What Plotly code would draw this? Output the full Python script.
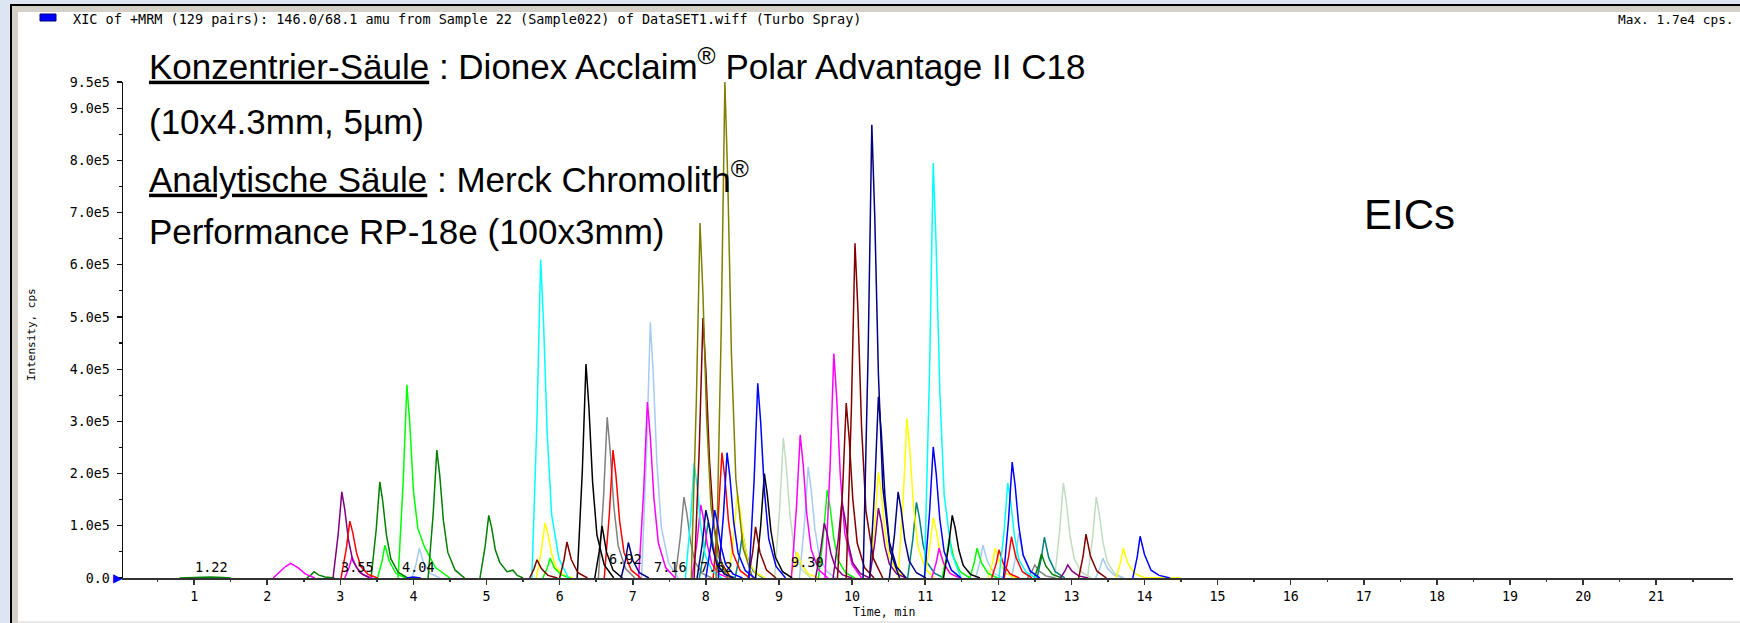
import plotly.graph_objects as go

# ---------------- data (intensities in units of 1e5 cps, time in min) ----------------
PALEGREEN_T = [8.94, 9.01, 9.06, 9.10, 9.15, 9.21, 9.31, 9.44, None,
               12.77, 12.84, 12.89, 12.93, 12.98, 13.04, 13.14, 13.27, None,
               13.22, 13.29, 13.34, 13.38, 13.43, 13.49, 13.59, 13.72]
PALEGREEN_I = [0, 1.34, 2.68, 2.14, 1.21, 0.54, 0.16, 0, None,
               0, 0.91, 1.82, 1.46, 0.82, 0.36, 0.11, 0, None,
               0, 0.78, 1.55, 1.24, 0.70, 0.31, 0.09, 0]

LIGHTBLUE_T = [3.98, 4.04, 4.08, 4.14, 4.23, 4.36, None,
               7.12, 7.19, 7.24, 7.28, 7.33, 7.39, 7.49, 7.62, None,
               9.28, 9.35, 9.40, 9.44, 9.49, 9.55, 9.65, 9.78, None,
               11.69, 11.75, 11.79, 11.85, 11.94, 12.07, None,
               12.18, 12.24, 12.28, 12.34, 12.43, 12.56, None,
               13.33, 13.39, 13.43, 13.49, 13.58, 13.71]
LIGHTBLUE_I = [0, 0.29, 0.57, 0.29, 0.09, 0, None,
               0, 2.45, 4.90, 3.92, 2.21, 0.98, 0.29, 0, None,
               0, 1.07, 2.13, 1.70, 0.96, 0.43, 0.13, 0, None,
               0, 0.32, 0.63, 0.32, 0.09, 0, None,
               0, 0.43, 0.86, 0.43, 0.13, 0, None,
               0, 0.19, 0.38, 0.19, 0.06, 0]

GRAY_T = [6.53, 6.60, 6.65, 6.69, 6.74, 6.80, 6.90, 7.03, None,
          7.58, 7.65, 7.70, 7.74, 7.79, 7.85, 7.95, 8.08, None,
          12.40, 12.46, 12.50, 12.56, 12.65, 12.78]
GRAY_I = [0, 1.54, 3.08, 2.46, 1.39, 0.62, 0.18, 0, None,
          0, 0.78, 1.55, 1.24, 0.70, 0.31, 0.09, 0, None,
          0, 0.13, 0.25, 0.13, 0.04, 0]

TEAL_T = [7.91, 7.98, 8.03, 8.07, 8.12, 8.18, 8.28, 8.41, None,
          8.40, 8.46, 8.50, 8.56, 8.65, 8.78, None,
          10.76, 10.83, 10.88, 10.92, 10.97, 11.03, 11.13, 11.26, None,
          12.53, 12.59, 12.63, 12.69, 12.78, 12.91]
TEAL_I = [0, 0.54, 1.07, 0.86, 0.48, 0.21, 0.06, 0, None,
          0, 0.43, 0.86, 0.43, 0.13, 0, None,
          0, 0.73, 1.45, 1.16, 0.65, 0.29, 0.09, 0, None,
          0, 0.39, 0.78, 0.39, 0.12, 0]

YELLOW_T = [5.68, 5.75, 5.80, 5.84, 5.89, 5.95, 6.05, 6.18, None,
            8.31, 8.38, 8.43, 8.47, 8.52, 8.58, 8.68, 8.81, None,
            9.15, 9.21, 9.25, 9.31, 9.40, 9.53, None,
            10.24, 10.31, 10.36, 10.40, 10.45, 10.51, 10.61, 10.74, None,
            10.63, 10.70, 10.75, 10.79, 10.84, 10.90, 11.00, 11.13, None,
            10.99, 11.06, 11.11, 11.15, 11.20, 11.26, 11.36, 11.49, None,
            11.86, 11.92, 11.96, 12.02, 12.11, 12.24, None,
            13.61, 13.67, 13.71, 13.77, 13.86, 13.99, 14.50]
YELLOW_I = [0, 0.53, 1.05, 0.84, 0.47, 0.21, 0.06, 0, None,
            0, 0.80, 1.60, 1.28, 0.72, 0.32, 0.10, 0, None,
            0, 0.25, 0.50, 0.25, 0.08, 0, None,
            0, 1.02, 2.03, 1.62, 0.91, 0.41, 0.12, 0, None,
            0, 1.53, 3.06, 2.45, 1.38, 0.61, 0.18, 0, None,
            0, 0.58, 1.15, 0.92, 0.52, 0.23, 0.07, 0, None,
            0, 0.29, 0.57, 0.29, 0.09, 0, None,
            0, 0.29, 0.57, 0.29, 0.09, 0.01, 0]

GREEN_T = [3.51, 3.57, 3.61, 3.67, 3.76, 3.89, None,
           3.79, 3.86, 3.91, 3.95, 4.00, 4.06, 4.15, 4.30, 4.50, None,
           5.77, 5.83, 5.87, 5.93, 6.02, 6.15, None,
           9.54, 9.61, 9.66, 9.70, 9.75, 9.81, 9.91, 10.04, None,
           11.23, 11.29, 11.33, 11.39, 11.48, 11.61, None,
           11.61, 11.67, 11.71, 11.77, 11.86, 11.99]
GREEN_I = [0, 0.32, 0.63, 0.32, 0.09, 0, None,
           0, 1.85, 3.70, 2.96, 1.67, 0.95, 0.60, 0.20, 0, None,
           0, 0.19, 0.38, 0.19, 0.06, 0, None,
           0, 0.85, 1.69, 1.35, 0.76, 0.34, 0.10, 0, None,
           0, 0.39, 0.77, 0.39, 0.12, 0, None,
           0, 0.29, 0.57, 0.29, 0.09, 0]

DARKGREEN_T = [0.80, 1.00, 1.22, 1.40, 1.50, None,
               2.54, 2.60, 2.64, 2.70, 2.79, 2.92, None,
               3.42, 3.49, 3.54, 3.58, 3.63, 3.69, 3.79, 3.92, None,
               4.20, 4.27, 4.32, 4.36, 4.41, 4.47, 4.57, 4.70, None,
               4.91, 4.98, 5.03, 5.07, 5.12, 5.18, 5.28, 5.36, 5.42, 5.50, None,
               12.49, 12.55, 12.59, 12.65, 12.74, 12.87]
DARKGREEN_I = [0, 0.015, 0.02, 0.01, 0, None,
               0, 0.06, 0.12, 0.06, 0.02, 0, None,
               0, 0.92, 1.84, 1.47, 0.83, 0.37, 0.11, 0, None,
               0, 1.23, 2.45, 1.96, 1.10, 0.49, 0.15, 0, None,
               0, 0.60, 1.20, 0.96, 0.54, 0.30, 0.12, 0.15, 0.05, 0, None,
               0, 0.23, 0.46, 0.23, 0.07, 0]

MAGENTA_T = [2.08, 2.18, 2.25, 2.32, 2.42, 2.52, 2.65, None,
             3.06, 3.12, 3.16, 3.22, 3.31, 3.44, None,
             7.08, 7.15, 7.20, 7.24, 7.29, 7.35, 7.45, 7.58, None,
             7.81, 7.88, 7.93, 7.97, 8.02, 8.08, 8.18, 8.31, None,
             9.17, 9.24, 9.29, 9.33, 9.38, 9.44, 9.54, 9.67, None,
             9.63, 9.70, 9.75, 9.79, 9.84, 9.90, 10.00, 10.13, None,
             11.09, 11.15, 11.19, 11.25, 11.34, 11.47]
MAGENTA_I = [0, 0.12, 0.22, 0.28, 0.20, 0.08, 0, None,
             0, 0.20, 0.40, 0.20, 0.06, 0, None,
             0, 1.69, 3.37, 2.70, 1.52, 0.67, 0.20, 0, None,
             0, 0.70, 1.40, 1.12, 0.63, 0.28, 0.08, 0, None,
             0, 1.37, 2.74, 2.19, 1.23, 0.55, 0.16, 0, None,
             0, 2.15, 4.30, 3.44, 1.94, 0.86, 0.26, 0, None,
             0, 0.29, 0.57, 0.29, 0.09, 0]

PURPLE_T = [2.90, 2.97, 3.02, 3.06, 3.11, 3.17, 3.27, 3.40, None,
            9.50, 9.57, 9.62, 9.66, 9.71, 9.77, 9.87, 10.00, None,
            9.74, 9.81, 9.86, 9.90, 9.95, 10.01, 10.11, 10.24, None,
            10.24, 10.31, 10.36, 10.40, 10.45, 10.51, 10.61, 10.74, None,
            12.85, 12.91, 12.95, 13.01, 13.10, 13.23]
PURPLE_I = [0, 0.83, 1.65, 1.32, 0.74, 0.33, 0.10, 0, None,
            0, 0.53, 1.05, 0.84, 0.47, 0.21, 0.06, 0, None,
            0, 0.73, 1.45, 1.16, 0.65, 0.29, 0.09, 0, None,
            0, 0.67, 1.34, 1.07, 0.60, 0.27, 0.08, 0, None,
            0, 0.13, 0.25, 0.13, 0.04, 0]

RED_T = [3.01, 3.08, 3.13, 3.17, 3.22, 3.28, 3.38, 3.51, None,
         6.61, 6.68, 6.73, 6.77, 6.82, 6.88, 6.98, 7.11, None,
         8.10, 8.17, 8.22, 8.26, 8.31, 8.37, 8.47, 8.60, None,
         11.91, 11.97, 12.01, 12.07, 12.16, 12.29, None,
         12.08, 12.14, 12.18, 12.24, 12.33, 12.46]
RED_I = [0, 0.55, 1.09, 0.87, 0.49, 0.22, 0.07, 0, None,
         0, 1.23, 2.45, 1.96, 1.10, 0.49, 0.15, 0, None,
         0, 1.20, 2.40, 1.92, 1.08, 0.48, 0.14, 0, None,
         0, 0.27, 0.54, 0.27, 0.08, 0, None,
         0, 0.40, 0.79, 0.40, 0.12, 0]

CYAN_T = [5.62, 5.69, 5.74, 5.78, 5.83, 5.89, 5.99, 6.12, None,
          7.72, 7.79, 7.84, 7.88, 7.93, 7.99, 8.09, 8.22, None,
          10.99, 11.06, 11.11, 11.15, 11.20, 11.26, 11.36, 11.49, None,
          12.01, 12.08, 12.13, 12.17, 12.22, 12.28, 12.38, 12.51]
CYAN_I = [0, 3.05, 6.10, 4.88, 2.75, 1.22, 0.37, 0, None,
          0, 1.10, 2.20, 1.76, 0.99, 0.44, 0.13, 0, None,
          0, 3.98, 7.95, 6.36, 3.58, 1.59, 0.48, 0, None,
          0, 0.91, 1.82, 1.46, 0.82, 0.36, 0.11, 0]

BLACK_T = [6.24, 6.31, 6.36, 6.40, 6.45, 6.51, 6.61, 6.74, None,
           6.48, 6.54, 6.58, 6.64, 6.73, 6.86, None,
           8.68, 8.75, 8.80, 8.84, 8.89, 8.95, 9.05, 9.18, None,
           11.25, 11.32, 11.37, 11.41, 11.46, 11.52, 11.62, 11.75]
BLACK_I = [0, 2.05, 4.10, 3.28, 1.85, 0.82, 0.25, 0, None,
           0, 0.50, 1.00, 0.50, 0.15, 0, None,
           0, 1.00, 2.00, 1.60, 0.90, 0.40, 0.12, 0, None,
           0, 0.60, 1.20, 0.96, 0.54, 0.24, 0.07, 0]

DARKRED_T = [5.59, 5.65, 5.69, 5.75, 5.84, 5.97, None,
             6.00, 6.06, 6.10, 6.16, 6.25, 6.38, None,
             7.84, 7.91, 7.96, 8.00, 8.05, 8.11, 8.21, 8.34, None,
             8.58, 8.64, 8.68, 8.74, 8.83, 8.96, None,
             9.80, 9.87, 9.92, 9.96, 10.01, 10.07, 10.17, 10.30, None,
             9.92, 9.99, 10.04, 10.08, 10.13, 10.19, 10.29, 10.42, None,
             13.10, 13.16, 13.20, 13.26, 13.35, 13.48]
DARKRED_I = [0, 0.18, 0.35, 0.18, 0.05, 0, None,
             0, 0.35, 0.69, 0.35, 0.10, 0, None,
             0, 2.49, 4.98, 3.98, 2.24, 1.00, 0.30, 0, None,
             0, 0.49, 0.98, 0.49, 0.15, 0, None,
             0, 1.68, 3.35, 2.68, 1.51, 0.67, 0.20, 0, None,
             0, 3.21, 6.41, 5.13, 2.88, 1.28, 0.38, 0, None,
             0, 0.42, 0.84, 0.42, 0.13, 0]

OLIVE_T = [7.80, 7.87, 7.92, 7.96, 8.01, 8.07, 8.17, 8.30, None,
           8.14, 8.21, 8.26, 8.30, 8.35, 8.41, 8.51, 8.64]
OLIVE_I = [0, 3.40, 6.80, 5.44, 3.06, 1.36, 0.41, 0, None,
           0, 4.75, 9.50, 7.60, 4.28, 1.90, 0.57, 0]

BLUE_T = [3.90, 4.00, 4.10, None,
          8.00, 8.07, 8.12, 8.16, 8.21, 8.27, 8.37, 8.50, None,
          8.17, 8.24, 8.29, 8.33, 8.38, 8.44, 8.54, 8.67, None,
          8.59, 8.66, 8.71, 8.75, 8.80, 8.86, 8.96, 9.09, None,
          10.99, 11.06, 11.11, 11.15, 11.20, 11.26, 11.36, 11.49, None,
          12.07, 12.14, 12.19, 12.23, 12.28, 12.34, 12.44, 12.57, None,
          13.84, 13.90, 13.94, 14.00, 14.09, 14.20, 14.35]
BLUE_I = [0, 0.02, 0, None,
          0, 0.65, 1.30, 1.04, 0.59, 0.26, 0.08, 0, None,
          0, 1.20, 2.40, 1.92, 1.08, 0.48, 0.14, 0, None,
          0, 1.87, 3.73, 2.98, 1.68, 0.75, 0.22, 0, None,
          0, 1.26, 2.51, 2.01, 1.13, 0.50, 0.15, 0, None,
          0, 1.11, 2.22, 1.78, 1.00, 0.44, 0.13, 0, None,
          0, 0.40, 0.80, 0.45, 0.15, 0.05, 0]

NAVY_T = [6.84, 6.90, 6.94, 7.00, 7.09, 7.22, None,
          7.88, 7.95, 8.00, 8.04, 8.09, 8.15, 8.25, 8.38, None,
          10.15, 10.22, 10.27, 10.31, 10.36, 10.42, 10.52, 10.65, None,
          10.24, 10.31, 10.36, 10.40, 10.45, 10.51, 10.61, 10.74, None,
          10.51, 10.58, 10.63, 10.67, 10.72, 10.78, 10.88, 11.01]
NAVY_I = [0, 0.34, 0.68, 0.34, 0.10, 0, None,
          0, 0.65, 1.30, 1.04, 0.59, 0.26, 0.08, 0, None,
          0, 4.34, 8.68, 6.94, 3.91, 1.74, 0.52, 0, None,
          0, 1.74, 3.47, 2.78, 1.56, 0.69, 0.21, 0, None,
          0, 0.83, 1.65, 1.32, 0.74, 0.33, 0.10, 0]

PEAK_LABELS = ["1.22", "3.55", "4.04", "6.92", "7.16", "7.62", "9.30"]
PEAK_LABEL_T = [1.24, 3.24, 4.07, 6.90, 7.51, 8.14, 9.39]
PEAK_LABEL_I = [0.21, 0.21, 0.21, 0.36, 0.21, 0.21, 0.30]

X_TICKS = list(range(1, 22))
Y_TICKS = [0, 1, 2, 3, 4, 5, 6, 7, 8, 9, 9.5]
Y_TICK_LABELS = ["0.0", "1.0e5", "2.0e5", "3.0e5", "4.0e5", "5.0e5",
                 "6.0e5", "7.0e5", "8.0e5", "9.0e5", "9.5e5"]
UNIT = 1e5

SERIES = [
    ("#C0DCC0", PALEGREEN_T, PALEGREEN_I),
    ("#A6CAF0", LIGHTBLUE_T, LIGHTBLUE_I),
    ("#808080", GRAY_T, GRAY_I),
    ("#008080", TEAL_T, TEAL_I),
    ("#FFFF00", YELLOW_T, YELLOW_I),
    ("#00FF00", GREEN_T, GREEN_I),
    ("#008000", DARKGREEN_T, DARKGREEN_I),
    ("#FF00FF", MAGENTA_T, MAGENTA_I),
    ("#800080", PURPLE_T, PURPLE_I),
    ("#FF0000", RED_T, RED_I),
    ("#00FFFF", CYAN_T, CYAN_I),
    ("#000000", BLACK_T, BLACK_I),
    ("#800000", DARKRED_T, DARKRED_I),
    ("#808000", OLIVE_T, OLIVE_I),
    ("#0000FF", BLUE_T, BLUE_I),
    ("#000080", NAVY_T, NAVY_I),
]

# ---------------- layout geometry (pixels) ----------------
W, H = 1740, 623
ML, MR, MT, MB = 123, 7, 82, 45
PW, PH = W - ML - MR, H - MT - MB


def px(x):
    return (x - ML) / PW


def py(y):
    return (H - MB - y) / PH


fig = go.Figure()
for color, ts, vals in SERIES:
    fig.add_trace(go.Scatter(
        x=ts, y=[None if v is None else v * UNIT for v in vals],
        mode="lines", line=dict(color=color, width=1.5),
        connectgaps=False, showlegend=False, hoverinfo="skip"))

MONO = "DejaVu Sans Mono, Liberation Mono, monospace"
tick_font = dict(family=MONO, size=13.3, color="#000000")

fig.update_xaxes(
    range=[0.027, 22.05], showgrid=False, zeroline=False,
    showline=True, linecolor="#333333", linewidth=2,
    ticks="outside", ticklen=5, tickwidth=1.5, tickcolor="#333333",
    tickvals=X_TICKS, ticktext=[str(v) for v in X_TICKS],
    tickfont=tick_font,
    minor=dict(tickvals=[v + 0.5 for v in range(0, 22)], ticks="outside",
               ticklen=2, tickwidth=1.5, tickcolor="#333333"),
)
fig.update_yaxes(
    range=[0, 9.5 * UNIT], showgrid=False, zeroline=False,
    showline=True, linecolor="#111111", linewidth=1.5,
    ticks="outside", ticklen=5, tickwidth=1.2, tickcolor="#111111",
    tickvals=[v * UNIT for v in Y_TICKS], ticktext=Y_TICK_LABELS,
    tickfont=tick_font, ticklabelstandoff=4,
    minor=dict(tickvals=[(v + 0.5) * UNIT for v in range(0, 9)], ticks="outside",
               ticklen=3, tickwidth=1.2, tickcolor="#111111"),
)

shapes = [
    # outer window frame (black edge + grey bevel)
    dict(type="rect", xref="paper", yref="paper", layer="below",
         x0=px(11), x1=px(1800), y0=py(5), y1=py(680),
         fillcolor="#D4D0C8", line=dict(color="#000000", width=2)),
    # white chart panel
    dict(type="rect", xref="paper", yref="paper", layer="below",
         x0=px(18), x1=px(1800), y0=py(12), y1=py(621),
         fillcolor="#FFFFFF", line=dict(width=0)),
    dict(type="rect", xref="paper", yref="paper", layer="below",
         x0=px(18), x1=px(1800), y0=py(621), y1=py(680),
         fillcolor="#E9E9E9", line=dict(width=0)),
    # blue legend square
    dict(type="rect", xref="paper", yref="paper",
         x0=px(40), x1=px(56), y0=py(14), y1=py(21),
         fillcolor="#0000FF", line=dict(color="#000080", width=1)),
]

ann = []
small_font = dict(family=MONO, size=13.5, color="#000000")
ann.append(dict(xref="paper", yref="paper", x=px(71), y=py(19), xanchor="left", yanchor="middle",
                text="XIC of +MRM (129 pairs): 146.0/68.1 amu from Sample 22 (Sample022) of DataSET1.wiff (Turbo Spray)",
                font=small_font, showarrow=False))
ann.append(dict(xref="paper", yref="paper", x=px(1736), y=py(19), xanchor="right", yanchor="middle",
                text="Max. 1.7e4 cps.", font=dict(family=MONO, size=12.8, color="#000000"),
                showarrow=False))
ann.append(dict(xref="paper", yref="paper", x=px(884), y=py(612), xanchor="center", yanchor="middle",
                text="Time, min", font=dict(family=MONO, size=11.5, color="#000000"), showarrow=False))
ann.append(dict(xref="paper", yref="paper", x=px(31), y=py(335), xanchor="center", yanchor="middle",
                text="Intensity, cps", textangle=-90, font=dict(family=MONO, size=11, color="#000000"),
                showarrow=False))
# blue threshold triangle at origin
ann.append(dict(xref="paper", yref="y", x=px(125), y=0, xanchor="right", yanchor="middle",
                text="▶", font=dict(family="DejaVu Sans", size=12, color="#0000FF"), showarrow=False))

big_font = dict(family="Liberation Sans, Arial, sans-serif", size=35, color="#000000")
big_lines = [
    ("<u>Konzentrier-Säule</u> : Dionex Acclaim<sup>®</sup> Polar Advantage II C18", 64),
    ("(10x4.3mm, 5µm)", 121),
    ("<u>Analytische Säule</u> : Merck Chromolith<sup>®</sup>", 177),
    ("Performance RP-18e (100x3mm)", 232),
]
for txt, yc in big_lines:
    ann.append(dict(xref="paper", yref="paper", x=px(147), y=py(yc), xanchor="left", yanchor="middle",
                    text=txt, font=big_font, showarrow=False))
ann.append(dict(xref="paper", yref="paper", x=px(1409), y=py(214), xanchor="center", yanchor="middle",
                text="EICs", font=dict(family=big_font["family"], size=42, color="#000000"),
                showarrow=False))

for lab, t, v in zip(PEAK_LABELS, PEAK_LABEL_T, PEAK_LABEL_I):
    ann.append(dict(xref="x", yref="y", x=t, y=v * UNIT, xanchor="center", yanchor="middle",
                    text=lab, font=dict(family=MONO, size=13.5, color="#000000"),
                    showarrow=False))

fig.update_layout(
    width=W, height=H, autosize=False,
    margin=dict(l=ML, r=MR, t=MT, b=MB, pad=0),
    paper_bgcolor="#DCE6F2", plot_bgcolor="rgba(0,0,0,0)",
    shapes=shapes, annotations=ann, showlegend=False,
)

fig.write_html("out.html",
               config={"displayModeBar": False, "staticPlot": True},
               post_script="document.body.style.margin='0';document.body.style.overflow='hidden';")
